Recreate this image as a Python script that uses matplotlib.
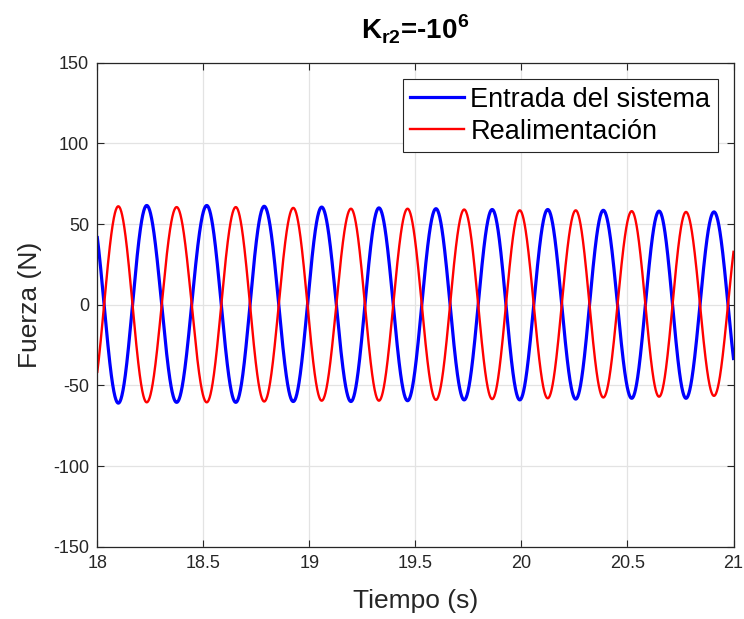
import numpy as np
import matplotlib
matplotlib.use('Agg')
import matplotlib.pyplot as plt

# Extremum times (s)
red_peak_t = [18.099, 18.374, 18.653, 18.924, 19.196, 19.463, 19.730, 19.992, 20.256, 20.520, 20.776]
blue_peak_t = [18.233, 18.516, 18.787, 19.058, 19.328, 19.597, 19.862, 20.124, 20.386, 20.649, 20.908]

# Extremum values (N)
red_peak_v = [61, 60.5, 60.5, 60, 59.5, 59.5, 59, 58.5, 58.5, 58, 57.5]
red_trough_v = [-60.5, -60.5, -60, -59.5, -59.5, -59, -58.5, -58, -57.5, -57, -56.5]
blue_peak_v = [61.5, 61.5, 61, 60.5, 60, 59.5, 59, 59, 58.5, 58, 57.5]
blue_trough_v = [-61, -60.5, -60.5, -60, -60, -59.5, -59, -59, -58.5, -58, -58]

x_ticks = [18, 18.5, 19, 19.5, 20, 20.5, 21]
x_labels = ['18', '18.5', '19', '19.5', '20', '20.5', '21']
y_ticks = [-150, -100, -50, 0, 50, 100, 150]

plt.rcParams['font.family'] = ['Liberation Sans', 'DejaVu Sans']
plt.rcParams['mathtext.fontset'] = 'custom'
plt.rcParams['mathtext.rm'] = 'Liberation Sans'
plt.rcParams['mathtext.bf'] = 'Liberation Sans:bold'
plt.rcParams['axes.unicode_minus'] = False


def build_curve(t, peak_t, trough_t, peak_v, trough_v, sign):
    # alternate extrema: peaks of one series are troughs of the other
    ext_t = np.array(sorted(peak_t + trough_t))
    ext_v = []
    pi_, ti_ = 0, 0
    for et in ext_t:
        if et in peak_t:
            ext_v.append(abs(peak_v[pi_])); pi_ += 1
        else:
            ext_v.append(abs(trough_v[ti_])); ti_ += 1
    k = np.arange(len(ext_t)) * np.pi
    phase = np.interp(t, ext_t, k)
    s0 = np.pi / (ext_t[1] - ext_t[0])
    s1 = np.pi / (ext_t[-1] - ext_t[-2])
    phase = np.where(t < ext_t[0], k[0] + (t - ext_t[0]) * s0, phase)
    phase = np.where(t > ext_t[-1], k[-1] + (t - ext_t[-1]) * s1, phase)
    amp = np.interp(t, ext_t, ext_v)
    return sign * amp * np.cos(phase)


t = np.linspace(18, 21, 3001)
red = build_curve(t, red_peak_t, blue_peak_t, red_peak_v, red_trough_v, 1)
blue = build_curve(t, red_peak_t, blue_peak_t, blue_trough_v, blue_peak_v, -1)

fig = plt.figure(figsize=(7.44, 6.19), dpi=100)
ax = fig.add_axes([0.1308, 0.1168, 0.8551, 0.7819])

ax.plot(t, blue, color=(0, 0, 1), linewidth=2.3, label='Entrada del sistema')
ax.plot(t, red, color=(1, 0, 0), linewidth=1.7, label='Realimentación')

ax.set_xlim(18, 21)
ax.set_ylim(-150, 150)
ax.set_xticks(x_ticks)
ax.set_xticklabels(x_labels)
ax.set_yticks(y_ticks)
ax.grid(True, color='#e3e3e3', linewidth=0.9)
ax.set_axisbelow(True)
ax.tick_params(direction='in', top=True, right=True, length=5, width=0.8,
               colors='#262626', labelsize=13)
ax.tick_params(axis='x', pad=6)
ax.tick_params(axis='y', pad=6)
for sp in ax.spines.values():
    sp.set_color('#262626')
    sp.set_linewidth(0.9)

ax.set_xlabel('Tiempo (s)', fontsize=19, color='#262626', labelpad=12)
ax.set_ylabel('Fuerza (N)', fontsize=19, color='#262626', labelpad=8)
ax.set_title(r'$\mathbf{K}_{\mathbf{r2}}$=-10$^{\mathbf{6}}$', fontsize=20,
             fontweight='bold', color='black', pad=17)

leg = ax.legend(loc='upper right', bbox_to_anchor=(0.9757, 0.9663), borderaxespad=0,
                fontsize=19.5, fancybox=False, framealpha=1, edgecolor='#262626',
                handlelength=2.0, handletextpad=0.22, borderpad=0.28, labelspacing=0.22)
leg.get_frame().set_linewidth(0.8)

fig.savefig('out.png', dpi=100)
